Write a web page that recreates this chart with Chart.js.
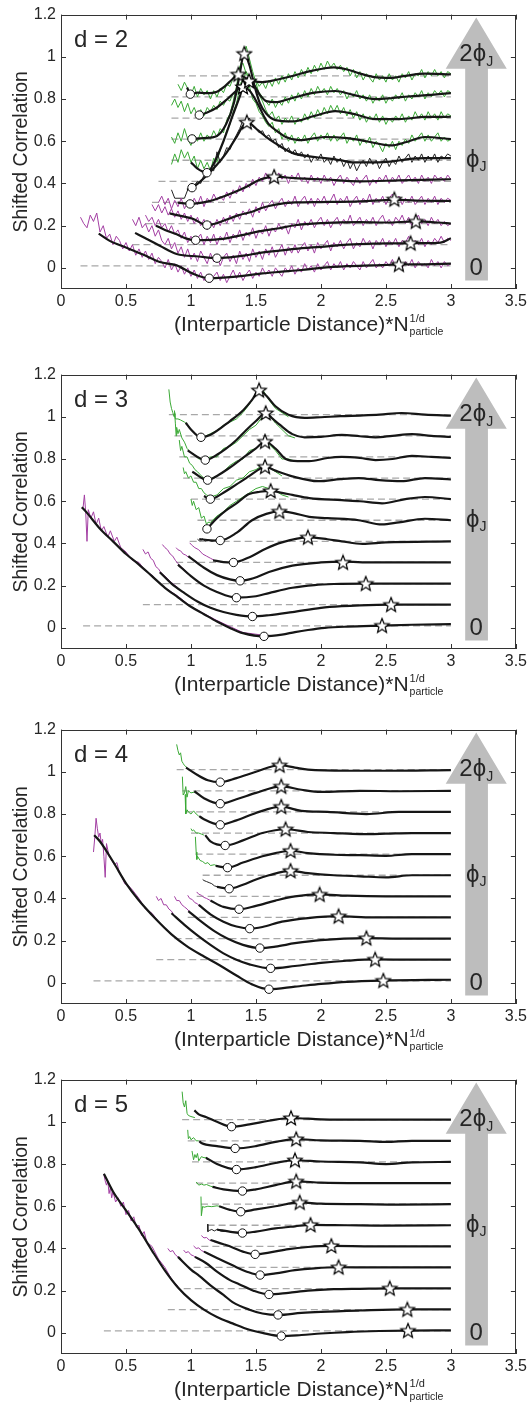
<!DOCTYPE html>
<html>
<head>
<meta charset="utf-8">
<script src="https://cdn.jsdelivr.net/npm/chart.js@4.4.0/dist/chart.umd.min.js"></script>
<style>
  body { margin: 0; background: #fff; width: 530px; height: 1405px; overflow: hidden; position: relative; }
  .panel { position: absolute; left: 0; width: 530px; height: 341px; }
</style>
</head>
<body>
<div class="panel" style="top:0px"><canvas id="d2" width="530" height="341"></canvas></div>
<div class="panel" style="top:360px"><canvas id="d3" width="530" height="341"></canvas></div>
<div class="panel" style="top:715px"><canvas id="d4" width="530" height="341"></canvas></div>
<div class="panel" style="top:1065px"><canvas id="d5" width="530" height="341"></canvas></div>
<script>
// ticks
var xTicks = [0, 0.5, 1, 1.5, 2, 2.5, 3, 3.5];
var yTicks = [0, 0.2, 0.4, 0.6, 0.8, 1, 1.2];
// dashed reference level of each shifted curve (bottom -> top)
var baselines = [0.01, 0.11, 0.21, 0.31, 0.41, 0.51, 0.61, 0.71, 0.81, 0.91, 1.01];

// ---------- d = 2 ----------
var p1Black = [
  [[0.29,0.162],[0.375,0.128],[0.5,0.097],[0.63,0.063],[0.76,0.028],[0.89,0.012],[1.01,-0.026],[1.14,-0.049],[1.25,-0.046],[1.4,-0.038],[1.55,-0.026],[1.7,-0.018],[1.85,-0.01],[2.0,0.0],[2.2,0.008],[2.4,0.012],[2.6,0.016],[2.8,0.017],[3.0,0.02]],
  [[0.57,0.166],[0.65,0.14],[0.76,0.105],[0.89,0.066],[1.06,0.054],[1.2,0.046],[1.3,0.05],[1.42,0.059],[1.52,0.07],[1.68,0.082],[1.8,0.09],[2.0,0.1],[2.2,0.11],[2.4,0.115],[2.6,0.116],[2.69,0.117],[2.8,0.117],[2.92,0.12],[3.0,0.14]],
  [[0.73,0.2],[0.8,0.18],[0.89,0.159],[0.96,0.14],[1.036,0.131],[1.15,0.133],[1.27,0.14],[1.42,0.159],[1.52,0.173],[1.68,0.188],[1.8,0.202],[2.0,0.212],[2.29,0.217],[2.5,0.215],[2.73,0.22],[2.9,0.215],[3.0,0.21]],
  [[0.835,0.258],[0.93,0.245],[1.013,0.233],[1.123,0.203],[1.2,0.212],[1.27,0.228],[1.37,0.25],[1.47,0.266],[1.55,0.285],[1.65,0.3],[1.8,0.31],[2.0,0.312],[2.3,0.315],[2.565,0.322],[2.8,0.318],[3.0,0.317]],
  [[0.898,0.309],[0.993,0.303],[1.14,0.316],[1.27,0.343],[1.42,0.382],[1.52,0.415],[1.64,0.432],[1.8,0.425],[2.0,0.42],[2.3,0.41],[2.6,0.415],[3.0,0.42]],
  [[0.97,0.37],[1.008,0.38],[1.064,0.405],[1.166,0.466],[1.27,0.543],[1.35,0.62],[1.43,0.69],[1.52,0.65],[1.58,0.62],[1.65,0.59],[1.78,0.545],[1.91,0.528],[2.03,0.52],[2.15,0.51],[2.24,0.5],[2.42,0.5],[2.55,0.505],[2.67,0.515],[2.8,0.52],[3.0,0.52]],
  [[1.0,0.5],[1.05,0.47],[1.123,0.451],[1.18,0.5],[1.25,0.6],[1.32,0.72],[1.38,0.82],[1.4,0.857],[1.45,0.84],[1.52,0.77],[1.56,0.72],[1.6,0.68],[1.67,0.645],[1.73,0.62],[1.83,0.605],[2.03,0.62],[2.2,0.615],[2.35,0.6],[2.54,0.58],[2.65,0.595],[2.8,0.62],[3.0,0.61]],
  [[1.008,0.611],[1.1,0.615],[1.2,0.625],[1.27,0.68],[1.33,0.78],[1.37,0.9],[1.41,1.015],[1.45,0.96],[1.49,0.86],[1.53,0.78],[1.58,0.73],[1.65,0.7],[1.78,0.694],[1.95,0.72],[2.11,0.743],[2.25,0.73],[2.42,0.705],[2.6,0.705],[2.8,0.715],[3.0,0.716]],
  [[1.064,0.724],[1.12,0.735],[1.2,0.76],[1.28,0.8],[1.35,0.84],[1.4,0.87],[1.447,0.885],[1.49,0.86],[1.53,0.82],[1.58,0.79],[1.65,0.785],[1.78,0.805],[1.95,0.83],[2.11,0.838],[2.25,0.82],[2.42,0.8],[2.55,0.805],[2.67,0.812],[2.85,0.82],[3.0,0.828]],
  [[0.97,0.855],[0.995,0.823],[1.05,0.83],[1.12,0.828],[1.2,0.835],[1.26,0.86],[1.32,0.895],[1.365,0.917],[1.42,0.9],[1.48,0.885],[1.55,0.88],[1.65,0.89],[1.78,0.909],[1.9,0.93],[2.03,0.946],[2.1,0.95],[2.2,0.94],[2.29,0.923],[2.4,0.905],[2.54,0.9],[2.65,0.91],[2.8,0.92],[3.0,0.917]]
];
// raw (noisy) curves of d = 2 sampled on a common grid
var xGrid1 = [0.15,0.175,0.2,0.225,0.25,0.275,0.3,0.325,0.35,0.375,0.4,0.425,0.45,0.475,0.5,0.525,0.55,0.575,0.6,0.625,0.65,0.675,0.7,0.725,0.75,0.775,0.8,0.825,0.85,0.875,0.9,0.925,0.95,0.975,1.0,1.025,1.05,1.075,1.1,1.125,1.15,1.175,1.2,1.225,1.25,1.275,1.3,1.325,1.35,1.375,1.4,1.425,1.45,1.475,1.5,1.525,1.55,1.575,1.6,1.625,1.65,1.675,1.7,1.725,1.75,1.775,1.8,1.825,1.85,1.875,1.9,1.925,1.95,1.975,2.0,2.025,2.05,2.075,2.1,2.125,2.15,2.175,2.2,2.225,2.25,2.275,2.3,2.325,2.35,2.375,2.4,2.425,2.45,2.475,2.5,2.525,2.55,2.575,2.6,2.625,2.65,2.675,2.7,2.725,2.75,2.775,2.8,2.825,2.85,2.875,2.9,2.925,2.95,2.975,3.0];
var p1NoiseStart = [0.15, 0.55, 0.65, 0.7, 0.75, 0.85, 0.85, 0.85, 0.85, 0.9];
var p1Noise = [
  [0.24,0.21,0.19,0.25,0.22,0.26,0.17,0.2,0.14,0.16, 0.11,0.15,0.13,0.09,0.12,0.08,0.11,0.06,0.09,0.05, 0.08,0.04,0.07,0.02,0.05,0.03,0.0,0.04,-0.01,0.02,
   -0.02,0.01,-0.03,0.0,-0.04,-0.01,-0.05,-0.02,-0.06,-0.03, -0.07,-0.04,-0.02,-0.06,-0.03,-0.07,-0.04,-0.01,-0.05,-0.02, -0.06,-0.03,-0.01,-0.05,-0.02,-0.04,0.0,-0.03,-0.01,-0.04,
   0.0,-0.02,-0.04,0.0,-0.02,0.01,-0.03,0.0,-0.02,0.02, -0.01,0.01,-0.02,0.02,-0.01,0.01,0.03,-0.01,0.02,0.0, 0.03,-0.01,0.02,0.0,0.03,0.01,-0.01,0.03,0.0,0.02,
   0.04,0.0,0.02,0.0,0.03,0.01,0.04,0.0,0.02,0.0, 0.03,0.01,0.04,0.0,0.03,0.01,0.02,0.0,0.04,0.01, 0.03,0.0,0.03,0.01,0.02],
  [0.23,0.2,0.24,0.19,0.21,0.17,0.2,0.15,0.18,0.13, 0.11,0.14,0.09,0.12,0.07,0.1,0.05,0.09,0.04,0.07, 0.03,0.08,0.05,0.02,0.07,0.03,0.06,0.01,0.05,0.07,
   0.03,0.06,0.02,0.08,0.04,0.07,0.03,0.09,0.05,0.08, 0.04,0.09,0.06,0.1,0.05,0.08,0.11,0.06,0.1,0.07, 0.11,0.07,0.1,0.12,0.08,0.11,0.07,0.12,0.09,0.11,
   0.13,0.08,0.12,0.1,0.13,0.09,0.12,0.14,0.09,0.12, 0.1,0.14,0.11,0.13,0.09,0.13,0.11,0.14,0.1,0.13, 0.11,0.14,0.1,0.13,0.12,0.15,0.1,0.13,0.11,0.14,
   0.1,0.13,0.11,0.14,0.12,0.15,0.12,0.14,0.13],
  [0.25,0.22,0.24,0.2,0.23,0.19,0.21,0.17,0.2,0.16, 0.18,0.14,0.17,0.12,0.15,0.11,0.14,0.16,0.11,0.15, 0.12,0.16,0.11,0.15,0.13,0.17,0.12,0.16,0.14,0.18,
   0.13,0.17,0.15,0.19,0.14,0.18,0.16,0.2,0.15,0.19, 0.17,0.21,0.18,0.2,0.16,0.21,0.19,0.23,0.18,0.22, 0.2,0.23,0.19,0.22,0.24,0.2,0.23,0.19,0.22,0.24,
   0.2,0.23,0.21,0.25,0.2,0.22,0.24,0.2,0.23,0.21, 0.24,0.2,0.23,0.25,0.21,0.23,0.2,0.24,0.22,0.25, 0.21,0.24,0.2,0.23,0.25,0.21,0.23,0.2,0.24,0.21,
   0.23,0.2,0.22,0.2,0.21],
  [0.3,0.27,0.3,0.26,0.29,0.25,0.28,0.24,0.27,0.23, 0.26,0.22,0.25,0.21,0.24,0.2,0.23,0.18,0.22,0.19, 0.23,0.2,0.24,0.21,0.25,0.22,0.26,0.23,0.27,0.25,
   0.28,0.24,0.29,0.26,0.31,0.27,0.3,0.32,0.28,0.31, 0.33,0.29,0.32,0.3,0.34,0.29,0.32,0.34,0.3,0.33, 0.29,0.33,0.31,0.34,0.3,0.32,0.35,0.3,0.33,0.31,
   0.34,0.29,0.32,0.34,0.3,0.33,0.31,0.35,0.3,0.33, 0.31,0.34,0.3,0.33,0.35,0.31,0.34,0.3,0.33,0.31, 0.34,0.3,0.32,0.34,0.3,0.33,0.31,0.34,0.3,0.33,
   0.31,0.33,0.32],
  [0.31,0.34,0.3,0.33,0.28,0.32,0.29,0.33,0.28,0.31, 0.29,0.33,0.3,0.34,0.29,0.33,0.31,0.35,0.32,0.34, 0.32,0.36,0.33,0.37,0.35,0.39,0.36,0.4,0.38,0.42,
   0.39,0.43,0.41,0.45,0.42,0.44,0.41,0.45,0.42,0.44, 0.4,0.44,0.42,0.45,0.41,0.43,0.4,0.44,0.41,0.43, 0.4,0.44,0.41,0.43,0.39,0.42,0.44,0.4,0.43,0.41,
   0.39,0.43,0.4,0.42,0.44,0.39,0.42,0.4,0.43,0.41, 0.44,0.4,0.43,0.41,0.44,0.4,0.42,0.44,0.41,0.43, 0.4,0.44,0.41,0.43,0.4,0.44,0.42,0.43,0.41,0.44,
   0.42],
  [0.37,0.33,0.33,0.33,0.33,0.37,0.38,0.39,0.41,0.4, 0.44,0.43,0.47,0.46,0.55,0.5,0.53,0.57,0.56,0.6, 0.63,0.66,0.7,0.68,0.71,0.67,0.66,0.64,0.65,0.62,
   0.63,0.6,0.61,0.57,0.59,0.55,0.57,0.54,0.56,0.53, 0.55,0.52,0.54,0.5,0.53,0.51,0.54,0.5,0.52,0.49, 0.53,0.5,0.52,0.48,0.51,0.47,0.5,0.46,0.49,0.51,
   0.48,0.52,0.49,0.51,0.47,0.5,0.52,0.48,0.51,0.49, 0.53,0.5,0.52,0.54,0.5,0.53,0.51,0.54,0.5,0.53, 0.51,0.54,0.5,0.53,0.52,0.54,0.53],
  [0.49,0.54,0.5,0.56,0.52,0.55,0.5,0.53,0.47,0.51, 0.47,0.5,0.46,0.52,0.5,0.56,0.6,0.65,0.68,0.74, 0.78,0.85,0.88,0.84,0.86,0.8,0.78,0.74,0.72,0.69,
   0.67,0.69,0.64,0.66,0.61,0.64,0.6,0.63,0.59,0.62, 0.6,0.63,0.59,0.62,0.64,0.6,0.63,0.61,0.64,0.6, 0.63,0.6,0.62,0.64,0.59,0.62,0.6,0.63,0.58,0.61,
   0.59,0.62,0.57,0.6,0.58,0.55,0.59,0.57,0.6,0.56, 0.6,0.58,0.61,0.59,0.63,0.6,0.62,0.64,0.6,0.63, 0.6,0.62,0.64,0.6,0.62,0.6,0.61],
  [0.62,0.59,0.64,0.6,0.66,0.61,0.58,0.63,0.6,0.64, 0.6,0.63,0.61,0.65,0.62,0.66,0.64,0.7,0.73,0.79, 0.86,0.95,1.0,1.05,0.99,0.93,0.88,0.82,0.79,0.75,
   0.72,0.74,0.7,0.72,0.68,0.71,0.69,0.72,0.68,0.71, 0.69,0.73,0.7,0.74,0.71,0.75,0.72,0.76,0.73,0.77, 0.74,0.77,0.73,0.76,0.72,0.75,0.71,0.74,0.7,0.73,
   0.69,0.72,0.7,0.73,0.69,0.72,0.68,0.71,0.69,0.72, 0.7,0.73,0.69,0.72,0.7,0.74,0.71,0.73,0.7,0.74, 0.71,0.73,0.7,0.74,0.71,0.73,0.72],
  [0.77,0.8,0.76,0.79,0.74,0.78,0.73,0.76,0.72,0.75, 0.72,0.76,0.74,0.77,0.75,0.79,0.77,0.8,0.79,0.83, 0.82,0.87,0.89,0.93,0.9,0.88,0.86,0.83,0.81,0.79,
   0.77,0.8,0.76,0.79,0.77,0.81,0.78,0.82,0.79,0.83, 0.8,0.84,0.81,0.85,0.82,0.86,0.83,0.85,0.82,0.86, 0.83,0.85,0.82,0.84,0.8,0.83,0.81,0.84,0.8,0.82,
   0.79,0.82,0.78,0.81,0.79,0.82,0.78,0.81,0.79,0.82, 0.8,0.83,0.79,0.82,0.8,0.83,0.81,0.84,0.8,0.83, 0.81,0.84,0.82,0.84,0.81,0.84,0.83],
  [0.87,0.84,0.88,0.85,0.82,0.86,0.81,0.85,0.82,0.84, 0.8,0.84,0.81,0.85,0.83,0.87,0.86,0.9,0.93,0.95, 0.97,0.92,0.9,0.87,0.89,0.86,0.88,0.85,0.89,0.86,
   0.9,0.87,0.91,0.88,0.92,0.89,0.93,0.9,0.94,0.91, 0.95,0.92,0.96,0.93,0.97,0.94,0.98,0.95,0.97,0.94, 0.96,0.93,0.95,0.91,0.94,0.9,0.93,0.89,0.92,0.9,
   0.88,0.92,0.89,0.91,0.88,0.92,0.89,0.91,0.88,0.92, 0.9,0.93,0.89,0.92,0.91,0.94,0.9,0.93,0.91,0.94, 0.91,0.93,0.9,0.93,0.92]
];
var p1CircleX = [1.14, 1.2, 1.036, 1.123, 0.993, 1.008, 1.123, 1.008, 1.064, 0.995];
var p1CircleY = [-0.049, 0.046, 0.131, 0.203, 0.303, 0.38, 0.451, 0.611, 0.724, 0.823];
var p1StarX = [2.6, 2.69, 2.73, 2.565, 1.64, 1.43, 1.4, 1.41, 1.447, 1.365];
var p1StarY = [0.016, 0.117, 0.22, 0.325, 0.432, 0.69, 0.857, 1.015, 0.885, 0.917];

// ---------- d = 3 ----------
var p2Black = [
  [[0.16,0.572],[0.2,0.545],[0.3,0.47],[0.4,0.41],[0.5,0.35],[0.6,0.3],[0.7,0.245],[0.8,0.19],[0.9,0.145],[1.0,0.1],[1.1,0.065],[1.2,0.03],[1.3,0.0],[1.4,-0.025],[1.562,-0.04],[1.7,-0.032],[1.8,-0.02],[1.9,-0.01],[2.03,0.0],[2.2,0.006],[2.47,0.011],[2.7,0.015],[3.0,0.018]],
  [[0.76,0.264],[0.85,0.21],[0.95,0.165],[1.05,0.125],[1.15,0.095],[1.25,0.075],[1.35,0.062],[1.473,0.054],[1.6,0.06],[1.78,0.075],[2.0,0.095],[2.16,0.103],[2.3,0.107],[2.54,0.11],[3.0,0.11]],
  [[0.9,0.3],[1.0,0.245],[1.1,0.2],[1.2,0.17],[1.35,0.143],[1.5,0.15],[1.6,0.165],[1.78,0.19],[1.95,0.203],[2.1,0.208],[2.345,0.21],[3.0,0.21]],
  [[0.98,0.34],[1.1,0.285],[1.2,0.25],[1.3,0.23],[1.378,0.223],[1.48,0.235],[1.6,0.265],[1.78,0.295],[2.0,0.31],[2.17,0.314],[2.4,0.31],[3.0,0.31]],
  [[1.17,0.32],[1.25,0.312],[1.327,0.31],[1.45,0.335],[1.575,0.375],[1.7,0.405],[1.9,0.429],[2.05,0.42],[2.16,0.41],[2.32,0.398],[2.5,0.405],[3.0,0.41]],
  [[1.064,0.421],[1.15,0.415],[1.225,0.414],[1.35,0.45],[1.47,0.51],[1.58,0.54],[1.68,0.552],[1.78,0.545],[1.91,0.526],[2.05,0.52],[2.29,0.51],[2.47,0.49],[2.6,0.5],[2.8,0.517],[3.0,0.51]],
  [[1.123,0.469],[1.2,0.52],[1.27,0.557],[1.35,0.59],[1.447,0.634],[1.53,0.645],[1.613,0.649],[1.7,0.64],[1.78,0.63],[1.91,0.615],[2.16,0.605],[2.3,0.6],[2.47,0.59],[2.65,0.61],[2.8,0.62],[3.0,0.61]],
  [[1.1,0.625],[1.149,0.61],[1.25,0.64],[1.35,0.68],[1.45,0.72],[1.52,0.75],[1.57,0.764],[1.65,0.745],[1.78,0.718],[1.98,0.695],[2.15,0.705],[2.29,0.71],[2.45,0.7],[2.62,0.695],[2.8,0.71],[3.0,0.703]],
  [[1.01,0.74],[1.128,0.7],[1.2,0.72],[1.3,0.76],[1.42,0.815],[1.5,0.85],[1.57,0.883],[1.65,0.85],[1.73,0.8],[1.82,0.79],[1.91,0.79],[2.05,0.805],[2.16,0.81],[2.3,0.805],[2.42,0.795],[2.55,0.8],[2.7,0.815],[2.85,0.81],[3.0,0.805]],
  [[0.975,0.841],[1.05,0.81],[1.11,0.795],[1.2,0.82],[1.27,0.849],[1.35,0.89],[1.42,0.934],[1.5,0.98],[1.575,1.018],[1.63,0.99],[1.68,0.964],[1.78,0.918],[1.875,0.903],[2.0,0.905],[2.16,0.914],[2.3,0.908],[2.42,0.903],[2.55,0.91],[2.7,0.918],[2.85,0.91],[3.0,0.905]],
  [[0.96,0.972],[1.0,0.94],[1.077,0.903],[1.15,0.915],[1.3,0.98],[1.4,1.03],[1.47,1.08],[1.524,1.126],[1.58,1.1],[1.65,1.05],[1.75,1.01],[1.875,0.995],[2.0,0.998],[2.15,1.003],[2.3,1.006],[2.45,1.01],[2.62,1.018],[2.8,1.01],[3.0,1.005]]
];
var p2Noise = [
  [[0.17,0.57],[0.18,0.63],[0.19,0.55],[0.2,0.41],[0.21,0.56],[0.23,0.52],[0.25,0.55],[0.27,0.49],[0.29,0.52],[0.31,0.46],[0.33,0.48],[0.36,0.43],[0.38,0.46],[0.41,0.41],[0.43,0.43],[0.46,0.38],[0.5,0.36],[0.55,0.32],[0.6,0.31],[0.65,0.27],[0.7,0.25],[0.8,0.19],[0.9,0.15],[1.0,0.1],[1.2,0.035],[1.4,-0.022],[1.6,-0.038]],
  [[0.63,0.372],[0.65,0.35],[0.67,0.36],[0.69,0.33],[0.71,0.32],[0.73,0.29],[0.75,0.28],[0.77,0.26],[0.8,0.245],[0.85,0.215],[0.9,0.19]],
  [[0.78,0.395],[0.8,0.38],[0.82,0.37],[0.84,0.35],[0.86,0.34],[0.88,0.32],[0.9,0.305],[0.93,0.285],[0.96,0.27],[1.0,0.245]],
  [[0.886,0.38],[0.9,0.37],[0.92,0.365],[0.94,0.35],[0.96,0.345],[0.98,0.335],[1.0,0.33],[1.05,0.31]],
  [[0.99,0.403],[1.01,0.39],[1.03,0.38],[1.06,0.37],[1.09,0.35],[1.12,0.34],[1.15,0.33],[1.18,0.32]],
  [[1.05,0.42],[1.07,0.41],[1.09,0.422],[1.11,0.412],[1.13,0.418],[1.16,0.41],[1.19,0.416],[1.22,0.41]],
  [[1.0,0.61],[1.01,0.58],[1.02,0.6],[1.04,0.56],[1.06,0.57],[1.08,0.52],[1.1,0.53],[1.12,0.49],[1.13,0.5],[1.15,0.5],[1.2,0.53],[1.25,0.55],[1.3,0.58],[1.35,0.6],[1.4,0.62],[1.45,0.64],[1.5,0.66],[1.55,0.67],[1.6,0.66],[1.65,0.65],[1.7,0.63],[1.75,0.62]],
  [[0.94,0.76],[0.95,0.73],[0.96,0.74],[0.98,0.71],[1.0,0.72],[1.02,0.69],[1.04,0.69],[1.06,0.66],[1.08,0.66],[1.1,0.64],[1.12,0.63],[1.15,0.62],[1.2,0.63],[1.25,0.66],[1.3,0.67],[1.35,0.7],[1.4,0.71],[1.45,0.74],[1.5,0.75],[1.55,0.77],[1.6,0.76],[1.65,0.74],[1.7,0.72]],
  [[0.91,0.89],[0.92,0.84],[0.93,0.86],[0.95,0.81],[0.97,0.81],[0.99,0.78],[1.01,0.77],[1.03,0.75],[1.05,0.74],[1.08,0.72],[1.1,0.71],[1.13,0.7],[1.2,0.72],[1.25,0.74],[1.3,0.77],[1.35,0.79],[1.4,0.8],[1.45,0.84],[1.5,0.85],[1.55,0.88],[1.6,0.87],[1.65,0.84],[1.7,0.8],[1.75,0.8],[1.8,0.79]],
  [[0.873,1.03],[0.88,0.97],[0.886,0.91],[0.89,0.95],[0.9,0.92],[0.91,0.94],[0.93,0.9],[0.95,0.88],[0.97,0.85],[1.0,0.83],[1.03,0.82],[1.06,0.8],[1.1,0.8],[1.15,0.81],[1.2,0.81],[1.25,0.85],[1.3,0.86],[1.35,0.88],[1.4,0.91],[1.45,0.94],[1.5,0.96],[1.55,1.0],[1.6,1.01],[1.65,0.97],[1.7,0.94],[1.75,0.91],[1.8,0.9]],
  [[0.83,1.13],[0.84,1.07],[0.85,1.04],[0.86,1.02],[0.87,1.0],[0.875,1.02],[0.88,0.99],[0.9,0.99],[0.92,0.985],[0.95,0.975],[0.97,0.965],[1.0,0.94],[1.05,0.91],[1.1,0.905],[1.15,0.92],[1.2,0.935],[1.25,0.96],[1.3,0.975],[1.35,0.99],[1.4,1.02],[1.45,1.06],[1.5,1.11],[1.55,1.13],[1.6,1.08],[1.65,1.04],[1.7,1.02],[1.75,1.0]]
];
var p2CircleX = [1.562, 1.473, 1.35, 1.378, 1.327, 1.225, 1.123, 1.149, 1.128, 1.11, 1.077];
var p2CircleY = [-0.04, 0.054, 0.143, 0.223, 0.31, 0.414, 0.469, 0.61, 0.7, 0.795, 0.903];
var p2StarX = [2.47, 2.54, 2.345, 2.17, 1.9, 1.68, 1.613, 1.57, 1.57, 1.575, 1.524];
var p2StarY = [0.011, 0.11, 0.21, 0.31, 0.429, 0.552, 0.649, 0.764, 0.883, 1.018, 1.126];

// ---------- d = 4 ----------
var p3Black = [
  [[0.255,0.7],[0.3,0.67],[0.4,0.575],[0.503,0.469],[0.6,0.39],[0.733,0.3],[0.85,0.23],[0.962,0.177],[1.1,0.125],[1.217,0.085],[1.35,0.035],[1.47,-0.007],[1.6,-0.03],[1.8,-0.018],[2.0,-0.005],[2.2,0.005],[2.48,0.011],[3.0,0.015]],
  [[0.85,0.33],[0.95,0.275],[1.05,0.225],[1.15,0.18],[1.25,0.14],[1.35,0.11],[1.45,0.088],[1.613,0.069],[1.8,0.08],[2.0,0.095],[2.2,0.105],[2.417,0.111],[2.7,0.11],[3.0,0.11]],
  [[0.98,0.34],[1.08,0.29],[1.18,0.245],[1.28,0.21],[1.4,0.18],[1.53,0.165],[1.65,0.172],[1.8,0.188],[2.0,0.203],[2.35,0.212],[2.6,0.21],[3.0,0.21]],
  [[1.06,0.37],[1.15,0.325],[1.25,0.29],[1.35,0.267],[1.452,0.257],[1.55,0.265],[1.7,0.29],[1.9,0.307],[2.136,0.316],[2.4,0.31],[3.0,0.31]],
  [[1.15,0.39],[1.25,0.36],[1.37,0.349],[1.5,0.365],[1.65,0.39],[1.8,0.41],[1.99,0.419],[2.2,0.413],[2.5,0.41],[3.0,0.41]],
  [[1.2,0.455],[1.294,0.446],[1.4,0.465],[1.5,0.49],[1.6,0.51],[1.766,0.531],[1.9,0.52],[2.1,0.51],[2.3,0.505],[2.5,0.5],[2.7,0.51],[3.0,0.51]],
  [[1.19,0.554],[1.281,0.546],[1.4,0.57],[1.55,0.6],[1.65,0.615],[1.766,0.626],[1.9,0.615],[2.1,0.607],[2.3,0.605],[2.5,0.602],[2.7,0.61],[3.0,0.61]],
  [[1.11,0.7],[1.15,0.67],[1.263,0.651],[1.4,0.675],[1.55,0.71],[1.728,0.728],[1.9,0.715],[2.1,0.71],[2.3,0.705],[2.5,0.707],[2.7,0.71],[3.0,0.71]],
  [[1.064,0.79],[1.1,0.775],[1.225,0.749],[1.35,0.77],[1.5,0.805],[1.695,0.835],[1.85,0.815],[2.05,0.81],[2.35,0.8],[2.6,0.81],[3.0,0.81]],
  [[1.026,0.908],[1.1,0.875],[1.225,0.849],[1.35,0.87],[1.5,0.9],[1.695,0.931],[1.85,0.915],[2.0,0.905],[2.3,0.91],[2.6,0.908],[3.0,0.91]],
  [[0.962,1.02],[1.05,0.985],[1.13,0.96],[1.225,0.951],[1.35,0.97],[1.5,1.0],[1.682,1.031],[1.8,1.02],[1.9,1.01],[2.2,1.005],[2.5,1.005],[3.0,1.008]]
];
var p3Noise = [
  [[0.25,0.62],[0.26,0.69],[0.27,0.78],[0.28,0.73],[0.29,0.69],[0.3,0.71],[0.31,0.66],[0.32,0.68],[0.33,0.6],[0.34,0.5],[0.35,0.66],[0.37,0.6],[0.39,0.58],[0.41,0.56],[0.43,0.57],[0.45,0.52],[0.47,0.5],[0.49,0.47],[0.52,0.46],[0.55,0.44],[0.6,0.4],[0.65,0.35],[0.7,0.33],[0.75,0.29]],
  [[0.733,0.41],[0.75,0.39],[0.77,0.4],[0.79,0.37],[0.81,0.37],[0.83,0.35],[0.85,0.34],[0.87,0.32]],
  [[0.873,0.41],[0.89,0.39],[0.91,0.39],[0.93,0.37],[0.95,0.36],[0.97,0.35],[1.0,0.33]],
  [[0.975,0.415],[0.99,0.4],[1.01,0.395],[1.03,0.38],[1.05,0.375],[1.07,0.36]],
  [[1.044,0.431],[1.06,0.42],[1.08,0.415],[1.1,0.405],[1.12,0.4],[1.15,0.39]],
  [[1.09,0.49],[1.1,0.485],[1.12,0.48],[1.14,0.475],[1.16,0.47],[1.18,0.46],[1.2,0.456]],
  [[1.034,0.692],[1.04,0.62],[1.045,0.585],[1.05,0.6],[1.07,0.58],[1.09,0.575],[1.11,0.565],[1.13,0.57],[1.15,0.556],[1.18,0.56],[1.2,0.554]],
  [[1.0,0.731],[1.01,0.72],[1.02,0.725],[1.04,0.71],[1.06,0.71],[1.08,0.705],[1.1,0.7]],
  [[0.955,0.893],[0.96,0.8],[0.97,0.82],[0.98,0.81],[1.0,0.8],[1.02,0.815],[1.04,0.8],[1.06,0.79]],
  [[0.934,0.977],[0.94,0.89],[0.95,0.9],[0.96,0.93],[0.97,0.88],[0.98,0.91],[1.0,0.9],[1.03,0.905]],
  [[0.89,1.13],[0.9,1.1],[0.91,1.08],[0.92,1.09],[0.93,1.05],[0.94,1.04],[0.95,1.03],[0.97,1.02]]
];
var p3CircleX = [1.6, 1.613, 1.53, 1.452, 1.37, 1.294, 1.281, 1.263, 1.225, 1.225, 1.225];
var p3CircleY = [-0.03, 0.069, 0.165, 0.257, 0.349, 0.446, 0.546, 0.651, 0.749, 0.849, 0.951];
var p3StarX = [2.48, 2.417, 2.35, 2.136, 1.99, 1.766, 1.766, 1.728, 1.695, 1.695, 1.682];
var p3StarY = [0.011, 0.111, 0.212, 0.316, 0.419, 0.531, 0.626, 0.728, 0.835, 0.931, 1.031];

// ---------- d = 5 ----------
var p4Black = [
  [[0.33,0.754],[0.4,0.67],[0.5,0.58],[0.6,0.49],[0.7,0.39],[0.8,0.295],[0.9,0.215],[1.0,0.155],[1.1,0.11],[1.2,0.075],[1.32,0.045],[1.45,0.015],[1.55,0.0],[1.695,-0.015],[1.85,-0.01],[2.0,-0.003],[2.2,0.004],[2.45,0.009],[2.67,0.011],[3.0,0.012]],
  [[0.9,0.36],[1.0,0.3],[1.064,0.27],[1.15,0.225],[1.25,0.18],[1.32,0.146],[1.45,0.11],[1.55,0.092],[1.67,0.085],[1.85,0.095],[2.0,0.1],[2.3,0.106],[2.665,0.111],[3.0,0.111]],
  [[1.03,0.36],[1.115,0.331],[1.2,0.29],[1.3,0.25],[1.37,0.231],[1.48,0.2],[1.6,0.182],[1.75,0.19],[1.9,0.2],[2.1,0.207],[2.3,0.209],[2.53,0.211],[3.0,0.211]],
  [[1.1,0.385],[1.2,0.355],[1.32,0.32],[1.43,0.29],[1.532,0.274],[1.65,0.282],[1.8,0.297],[1.95,0.306],[2.136,0.311],[2.4,0.31],[3.0,0.31]],
  [[1.15,0.44],[1.25,0.42],[1.32,0.405],[1.4,0.385],[1.494,0.372],[1.6,0.38],[1.75,0.397],[1.9,0.407],[2.08,0.412],[2.4,0.41],[3.0,0.41]],
  [[1.2,0.49],[1.32,0.477],[1.396,0.473],[1.5,0.48],[1.65,0.495],[1.8,0.505],[1.92,0.512],[2.2,0.51],[2.5,0.508],[3.0,0.51]],
  [[1.217,0.6],[1.3,0.583],[1.383,0.574],[1.5,0.585],[1.65,0.6],[1.837,0.618],[2.0,0.612],[2.3,0.61],[2.6,0.608],[3.0,0.61]],
  [[1.166,0.692],[1.25,0.68],[1.396,0.672],[1.5,0.68],[1.65,0.7],[1.81,0.718],[2.0,0.712],[2.3,0.71],[2.6,0.71],[3.0,0.71]],
  [[1.115,0.83],[1.2,0.8],[1.35,0.774],[1.5,0.785],[1.65,0.805],[1.8,0.818],[2.0,0.812],[2.3,0.808],[2.5,0.8],[2.7,0.808],[3.0,0.81]],
  [[1.064,0.908],[1.08,0.9],[1.2,0.885],[1.34,0.874],[1.5,0.885],[1.65,0.905],[1.81,0.918],[2.0,0.912],[2.3,0.91],[2.5,0.905],[2.7,0.91],[3.0,0.91]],
  [[1.026,1.054],[1.06,1.035],[1.115,1.023],[1.2,1.0],[1.312,0.977],[1.45,0.988],[1.6,1.005],[1.77,1.018],[2.0,1.012],[2.3,1.01],[2.6,1.01],[3.0,1.01]]
];
var p4Noise = [
  [[0.33,0.75],[0.34,0.72],[0.35,0.7],[0.36,0.72],[0.37,0.66],[0.38,0.69],[0.39,0.64],[0.4,0.67],[0.42,0.62],[0.44,0.64],[0.46,0.6],[0.48,0.62],[0.5,0.56],[0.52,0.58],[0.54,0.53],[0.56,0.55],[0.58,0.5],[0.6,0.51],[0.62,0.46],[0.64,0.48],[0.66,0.43],[0.7,0.41],[0.75,0.35],[0.8,0.31],[0.85,0.255],[0.9,0.22]],
  [[0.822,0.4],[0.84,0.385],[0.86,0.39],[0.88,0.37],[0.9,0.36],[0.92,0.345],[0.95,0.33]],
  [[0.944,0.392],[0.96,0.38],[0.98,0.385],[1.0,0.37],[1.02,0.365],[1.05,0.35]],
  [[1.02,0.412],[1.04,0.4],[1.06,0.403],[1.08,0.39],[1.1,0.385],[1.13,0.375]],
  [[1.08,0.461],[1.1,0.45],[1.12,0.452],[1.14,0.44],[1.16,0.437],[1.19,0.43]],
  [[1.128,0.515],[1.13,0.48],[1.14,0.485],[1.16,0.49],[1.18,0.483],[1.2,0.49],[1.23,0.482],[1.26,0.48]],
  [[1.077,0.646],[1.08,0.555],[1.09,0.6],[1.1,0.595],[1.13,0.6],[1.16,0.598],[1.2,0.602],[1.23,0.598]],
  [[1.04,0.715],[1.06,0.7],[1.08,0.705],[1.1,0.7],[1.12,0.703],[1.15,0.695],[1.18,0.69]],
  [[1.008,0.862],[1.02,0.82],[1.03,0.845],[1.04,0.83],[1.05,0.85],[1.06,0.815],[1.08,0.835],[1.1,0.83],[1.12,0.83]],
  [[0.975,0.962],[0.98,0.92],[0.99,0.93],[1.0,0.915],[1.02,0.925],[1.04,0.91],[1.06,0.91]],
  [[0.932,1.143],[0.94,1.09],[0.95,1.07],[0.96,1.1],[0.97,1.04],[0.98,1.03],[1.0,1.025],[1.03,1.02]]
];
var p4CircleX = [1.695, 1.67, 1.6, 1.532, 1.494, 1.396, 1.383, 1.396, 1.35, 1.34, 1.312];
var p4CircleY = [-0.015, 0.085, 0.182, 0.274, 0.372, 0.473, 0.574, 0.672, 0.774, 0.874, 0.977];
var p4StarX = [2.67, 2.665, 2.53, 2.136, 2.08, 1.92, 1.837, 1.81, 1.8, 1.81, 1.77];
var p4StarY = [0.011, 0.111, 0.211, 0.311, 0.412, 0.512, 0.618, 0.718, 0.818, 0.918, 1.018];

// ---------- styles ----------
var FONT = '"Liberation Sans", Arial, sans-serif';
var TXT = '#262626';
var PURPLE = '#a33fa3', GREEN = '#3aa935', RAWBLACK = '#222222';
var rawColors = [PURPLE, PURPLE, PURPLE, PURPLE, PURPLE, RAWBLACK, GREEN, GREEN, GREEN, GREEN, GREEN];
// gray arrow, in data units
var arrow = { cx: 3.195, tipY: 1.186, headY: 0.944, headL: 2.96, headR: 3.43, shaftL: 3.11, shaftR: 3.285, bottom: -0.06 };

Chart.defaults.font.family = FONT;

function makeStar() {
  var c = document.createElement('canvas');
  c.width = 18; c.height = 18;
  var g = c.getContext('2d');
  g.beginPath();
  for (var i = 0; i < 10; i++) {
    var r = i % 2 ? 3.3 : 7.6;
    var a = -Math.PI / 2 + i * Math.PI / 5;
    g.lineTo(9 + r * Math.cos(a), 9.5 + r * Math.sin(a));
  }
  g.closePath();
  g.fillStyle = '#fff'; g.fill();
  g.strokeStyle = '#000'; g.lineWidth = 1.2; g.lineJoin = 'miter'; g.stroke();
  return c;
}
var starImg = makeStar();

function toPts(arr) {
  return arr.map(function(p) { return { x: p[0], y: p[1] }; });
}
function gridCurve(start, vals) {
  var i0 = xGrid1.indexOf(start);
  return vals.map(function(v, i) { return [xGrid1[i0 + i], v]; })
             .filter(function(p) { return p[0] !== undefined; });
}
function zipPts(xs, ys) {
  return xs.map(function(x, i) { return { x: x, y: ys[i] }; });
}

function buildDatasets(black, noise, cx, cy, sx, sy) {
  var ds = [];
  ds.push({ data: zipPts(sx, sy), showLine: false, pointStyle: starImg, pointRadius: 7, order: 0 });
  ds.push({ data: zipPts(cx, cy), showLine: false, pointStyle: 'circle', pointRadius: 4.2,
            backgroundColor: '#fff', borderColor: '#111', borderWidth: 1, order: 0 });
  black.forEach(function(c) {
    ds.push({ data: toPts(c), showLine: true, borderColor: '#161616', borderWidth: 2.2,
              cubicInterpolationMode: 'monotone', pointRadius: 0, order: 1 });
  });
  noise.forEach(function(c, k) {
    ds.push({ data: toPts(c), showLine: true, borderColor: rawColors[k], borderWidth: 1,
              tension: 0, pointRadius: 0, order: 2 });
    ds.push({ data: [{ x: c[0][0], y: baselines[k] }, { x: 3.0, y: baselines[k] }], showLine: true,
              borderColor: '#a8a8a8', borderWidth: 1.3, borderDash: [7, 4], pointRadius: 0, order: 3 });
  });
  return ds;
}

function txtSub(ctx, main, sub, x, y, size, subSize, drop) {
  ctx.font = size + 'px ' + FONT;
  var w1 = ctx.measureText(main).width;
  ctx.font = subSize + 'px ' + FONT;
  var w2 = ctx.measureText(sub).width;
  var x0 = x - (w1 + w2) / 2;
  ctx.font = size + 'px ' + FONT;
  ctx.fillText(main, x0, y);
  ctx.font = subSize + 'px ' + FONT;
  ctx.fillText(sub, x0 + w1, y + drop);
}

var deco = {
  id: 'deco',
  afterDraw: function(chart, args, opts) {
    var ctx = chart.ctx, a = chart.chartArea, xs = chart.scales.x, ys = chart.scales.y;
    ctx.save();
    // arrow
    ctx.fillStyle = '#bdbdbd';
    ctx.beginPath();
    ctx.moveTo(xs.getPixelForValue(arrow.cx), ys.getPixelForValue(arrow.tipY));
    ctx.lineTo(xs.getPixelForValue(arrow.headR), ys.getPixelForValue(arrow.headY));
    ctx.lineTo(xs.getPixelForValue(arrow.shaftR), ys.getPixelForValue(arrow.headY));
    ctx.lineTo(xs.getPixelForValue(arrow.shaftR), ys.getPixelForValue(arrow.bottom));
    ctx.lineTo(xs.getPixelForValue(arrow.shaftL), ys.getPixelForValue(arrow.bottom));
    ctx.lineTo(xs.getPixelForValue(arrow.shaftL), ys.getPixelForValue(arrow.headY));
    ctx.lineTo(xs.getPixelForValue(arrow.headL), ys.getPixelForValue(arrow.headY));
    ctx.closePath();
    ctx.fill();
    ctx.fillStyle = TXT;
    ctx.textBaseline = 'middle';
    ctx.textAlign = 'left';
    var ax = xs.getPixelForValue(arrow.cx);
    txtSub(ctx, '2\u03D5', 'J', ax, ys.getPixelForValue(1.01), 24, 14, 7);
    txtSub(ctx, '\u03D5', 'J', ax, ys.getPixelForValue(0.51), 24, 14, 7);
    ctx.font = '24px ' + FONT;
    ctx.textAlign = 'center';
    ctx.fillText('0', ax, ys.getPixelForValue(0.0));
    // panel label
    ctx.textAlign = 'left';
    ctx.fillText(opts.label, xs.getPixelForValue(0.1), ys.getPixelForValue(1.08));
    // frame with inward ticks
    ctx.strokeStyle = '#333'; ctx.lineWidth = 1;
    ctx.strokeRect(Math.round(a.left) + 0.5, Math.round(a.top) + 0.5, Math.round(a.right - a.left) - 1, Math.round(a.bottom - a.top) - 1);
    ctx.beginPath();
    xTicks.forEach(function(v) {
      var px = Math.round(xs.getPixelForValue(v)) + 0.5;
      ctx.moveTo(px, a.bottom); ctx.lineTo(px, a.bottom - 5);
      ctx.moveTo(px, a.top); ctx.lineTo(px, a.top + 5);
    });
    yTicks.forEach(function(v) {
      var py = Math.round(ys.getPixelForValue(v)) + 0.5;
      ctx.moveTo(a.left, py); ctx.lineTo(a.left + 5, py);
      ctx.moveTo(a.right, py); ctx.lineTo(a.right - 5, py);
    });
    ctx.stroke();
    // x title with N^(1/d)_particle
    ctx.textAlign = 'left';
    ctx.textBaseline = 'alphabetic';
    var main = '(Interparticle Distance)*N';
    ctx.font = '21px ' + FONT;
    var w1 = ctx.measureText(main).width;
    ctx.font = '11px ' + FONT;
    var w2 = Math.max(ctx.measureText('1/d').width, ctx.measureText('particle').width);
    var x0 = 309 - (w1 + w2) / 2, yb = a.bottom + 42;
    ctx.font = '21px ' + FONT;
    ctx.fillText(main, x0, yb);
    ctx.font = '11px ' + FONT;
    ctx.fillText('1/d', x0 + w1 + 1, yb - 9);
    ctx.font = '10.5px ' + FONT;
    ctx.fillText('particle', x0 + w1 + 1, yb + 4);
    ctx.restore();
  }
};

function makeChart(id, label, datasets) {
  return new Chart(document.getElementById(id).getContext('2d'), {
    type: 'scatter',
    data: { datasets: datasets },
    options: {
      responsive: false,
      animation: false,
      events: [],
      layout: { padding: { top: 7, right: 12.3, left: 0, bottom: 0 } },
      plugins: { legend: { display: false }, tooltip: { enabled: false }, deco: { label: label } },
      scales: {
        x: {
          type: 'linear', min: 0, max: 3.5,
          afterBuildTicks: function(s) { s.ticks = xTicks.map(function(v) { return { value: v }; }); },
          afterFit: function(s) { s.height = 52; },
          grid: { display: false, drawTicks: false }, border: { display: false },
          ticks: { padding: 3, color: TXT, font: { size: 16 }, callback: function(v) { return String(v); } }
        },
        y: {
          type: 'linear', min: -0.1, max: 1.2,
          afterBuildTicks: function(s) { s.ticks = yTicks.map(function(v) { return { value: v }; }); },
          afterFit: function(s) { s.width = 61; },
          grid: { display: false, drawTicks: false }, border: { display: false },
          ticks: { padding: 5, color: TXT, font: { size: 16 }, callback: function(v) { return String(v); } },
          title: { display: true, text: 'Shifted Correlation', color: TXT, font: { size: 19.5 }, padding: { top: 10, bottom: 0 } }
        }
      }
    },
    plugins: [deco]
  });
}

var p1NoisePts = p1Noise.map(function(v, k) { return gridCurve(p1NoiseStart[k], v); });

makeChart('d2', 'd = 2', buildDatasets(p1Black, p1NoisePts, p1CircleX, p1CircleY, p1StarX, p1StarY));
makeChart('d3', 'd = 3', buildDatasets(p2Black, p2Noise, p2CircleX, p2CircleY, p2StarX, p2StarY));
makeChart('d4', 'd = 4', buildDatasets(p3Black, p3Noise, p3CircleX, p3CircleY, p3StarX, p3StarY));
makeChart('d5', 'd = 5', buildDatasets(p4Black, p4Noise, p4CircleX, p4CircleY, p4StarX, p4StarY));
</script>
</body>
</html>
